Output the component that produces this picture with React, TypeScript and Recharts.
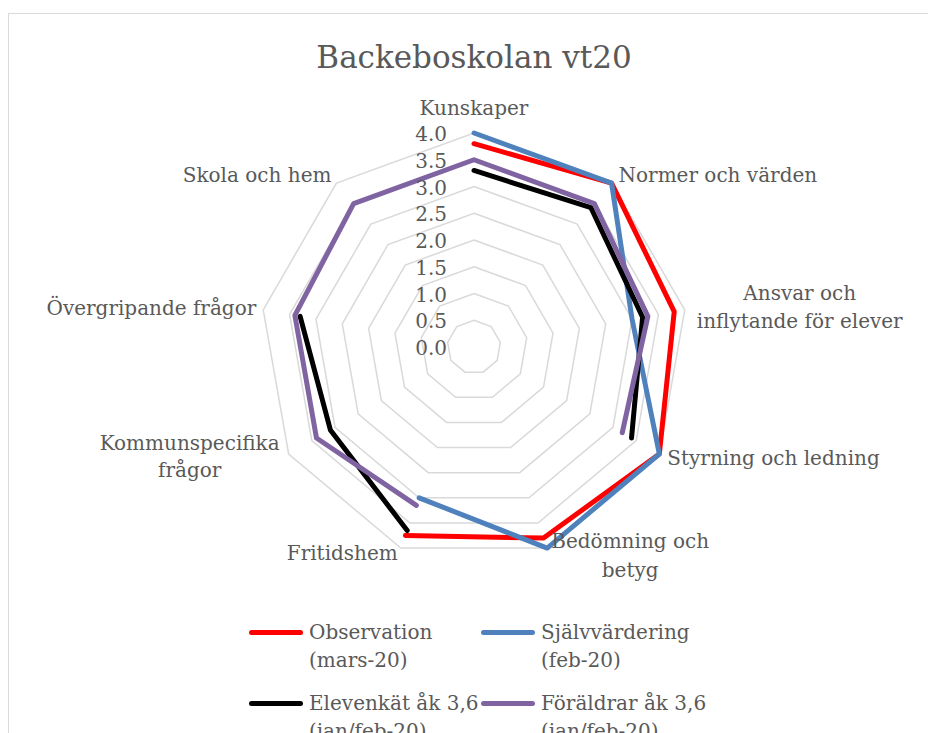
import React from 'react';
import { RadarChart, Radar, PolarGrid, PolarAngleAxis, PolarRadiusAxis } from 'recharts';

const categories = [
  'Kunskaper',
  'Normer och värden',
  'Ansvar och inflytande för elever',
  'Styrning och ledning',
  'Bedömning och betyg',
  'Fritidshem',
  'Kommunspecifika frågor',
  'Övergripande frågor',
  'Skola och hem',
];

// null = no value for that area, the line breaks there
const observation = [3.8, 4.0, 3.8, 4.0, 3.8, 3.75, null, null, null];
const sjalvvardering = [4.0, 4.0, 3.0, 4.0, 4.0, 3.0, null, null, null];
const elevenkat = [3.3, 3.4, 3.2, 3.4, null, 3.65, 3.1, 3.3, null];
const foraldrar = [3.5, 3.5, 3.3, 3.2, null, 3.15, 3.4, 3.4, 3.5];

const radiusTicks = [0, 0.5, 1, 1.5, 2, 2.5, 3, 3.5, 4];

const seriesNames = [
  'Observation (mars-20)',
  'Självvärdering (feb-20)',
  'Elevenkät åk 3,6 (jan/feb-20)',
  'Föräldrar åk 3,6 (jan/feb-20)',
];
const seriesKeys = ['obs', 'self', 'elev', 'par'];
const seriesColors = ['#FF0000', '#4F81BD', '#000000', '#8064A2'];

const title = 'Backeboskolan vt20';

const data = categories.map((name, i) => ({
  name,
  obs: observation[i],
  self: sjalvvardering[i],
  elev: elevenkat[i],
  par: foraldrar[i],
}));

const FONT = "'DejaVu Serif', serif";
const TEXT = '#595959';
const GRID = '#D9D9D9';
const TICK_SIZE = 8;

// label placement around each vertex (dx/dy from vertex, br = words on first line)
const labelLayout = [
  { dx: 0, dy: [-25], anchor: 'middle', br: 0 },
  { dx: 7, dy: [-8], anchor: 'start', br: 0 },
  { dx: 115, dy: [-17, 11], anchor: 'middle', br: 2 },
  { dx: 8, dy: [4], anchor: 'start', br: 0 },
  { dx: 83, dy: [-7, 22], anchor: 'middle', br: 2 },
  { dx: -3, dy: [5], anchor: 'end', br: 0 },
  { dx: -99, dy: [-11, 16], anchor: 'middle', br: 1 },
  { dx: -7, dy: [-2], anchor: 'end', br: 0 },
  { dx: -5, dy: [-8], anchor: 'end', br: 0 },
];

const AngleTick = (props: any) => {
  const { x, y, payload, index } = props;
  const i = typeof index === 'number' ? index : categories.indexOf(payload.value);
  const l = labelLayout[i];
  // step back from the tick end to the grid vertex
  const a = (payload.coordinate * Math.PI) / 180;
  const vx = x - TICK_SIZE * Math.cos(a);
  const vy = y + TICK_SIZE * Math.sin(a);
  const words = String(payload.value).split(' ');
  const lines = l.br ? [words.slice(0, l.br).join(' '), words.slice(l.br).join(' ')] : [payload.value];
  return (
    <g>
      {lines.map((t: string, k: number) => (
        <text
          key={k}
          x={vx + l.dx}
          y={vy + l.dy[k]}
          textAnchor={l.anchor}
          dominantBaseline="central"
          fill={TEXT}
          fontSize={20}
          fontFamily={FONT}
        >
          {t}
        </text>
      ))}
    </g>
  );
};

const RadiusTick = (props: any) => {
  const { x, y, payload } = props;
  return (
    <text x={x - 27} y={y + 1} textAnchor="end" dominantBaseline="central" fill={TEXT} fontSize={20} fontFamily={FONT}>
      {Number(payload.value).toFixed(1)}
    </text>
  );
};

// draws the series line but leaves gaps where a value is missing
const GapLine = (props: any) => {
  const { points, stroke } = props;
  const n = points.length;
  const ok = points.map((p: any) => p.value != null && Number.isFinite(p.x) && Number.isFinite(p.y));
  let d = '';
  if (ok.every(Boolean)) {
    d = 'M' + points.map((p: any) => `${p.x},${p.y}`).join('L') + 'Z';
  } else {
    const start = ok.indexOf(false);
    for (let k = 1; k <= n; k++) {
      const i = (start + k) % n;
      if (!ok[i]) continue;
      const prev = (i - 1 + n) % n;
      d += (ok[prev] ? 'L' : 'M') + `${points[i].x},${points[i].y}`;
    }
  }
  return <path d={d} fill="none" stroke={stroke} strokeWidth={5} strokeLinecap="round" strokeLinejoin="round" />;
};

const LegendBox = () => (
  <div style={{ position: 'absolute', left: 0, top: 0 }}>
    {seriesNames.map((name, i) => {
      const col = i % 2;
      const row = Math.floor(i / 2);
      const left = 249 + col * 232;
      const top = 618 + row * 71;
      const cut = name.indexOf(' (');
      return (
        <div key={name}>
          <div
            style={{
              position: 'absolute',
              left,
              top: top + 12,
              width: 54,
              height: 5,
              borderRadius: 3,
              background: seriesColors[i],
            }}
          />
          <div
            style={{
              position: 'absolute',
              left: left + 60,
              top,
              whiteSpace: 'nowrap',
              fontFamily: FONT,
              fontSize: 20,
              lineHeight: '28px',
              color: TEXT,
            }}
          >
            {name.slice(0, cut)}
            <br />
            {name.slice(cut + 1)}
          </div>
        </div>
      );
    })}
  </div>
);

export default function App() {
  return (
    <div style={{ position: 'fixed', left: 0, top: 0, width: 928, height: 733, overflow: 'hidden', background: '#fff' }}>
      <div
        style={{
          position: 'absolute',
          left: 8,
          top: 13,
          width: 960,
          height: 760,
          border: '1px solid #D9D9D9',
        }}
      />
      <div
        style={{
          position: 'absolute',
          left: 274,
          top: 39,
          width: 400,
          textAlign: 'center',
          fontFamily: FONT,
          fontSize: 31,
          lineHeight: '36px',
          color: TEXT,
        }}
      >
        {title}
      </div>
      <div style={{ position: 'absolute', left: 0, top: 0 }}>
        <RadarChart
          width={928}
          height={600}
          data={data}
          cx={474}
          cy={347}
          outerRadius={214}
          startAngle={90}
          endAngle={-270}
          margin={{ top: 0, right: 0, bottom: 0, left: 0 }}
        >
          <PolarGrid gridType="polygon" radialLines={false} stroke={GRID} strokeWidth={1.5} />
          <PolarAngleAxis dataKey="name" tick={<AngleTick />} tickLine={false} axisLine={false} />
          <PolarRadiusAxis
            angle={90}
            domain={[0, 4]}
            ticks={radiusTicks as any}
            axisLine={false}
            tickLine={false}
            tick={<RadiusTick />}
          />
          {seriesKeys.map((k, i) => (
            <Radar
              key={k}
              name={seriesNames[i]}
              dataKey={k}
              stroke={seriesColors[i]}
              fill="none"
              fillOpacity={0}
              dot={false}
              isAnimationActive={false}
              shape={GapLine}
            />
          ))}
        </RadarChart>
      </div>
      <LegendBox />
    </div>
  );
}
